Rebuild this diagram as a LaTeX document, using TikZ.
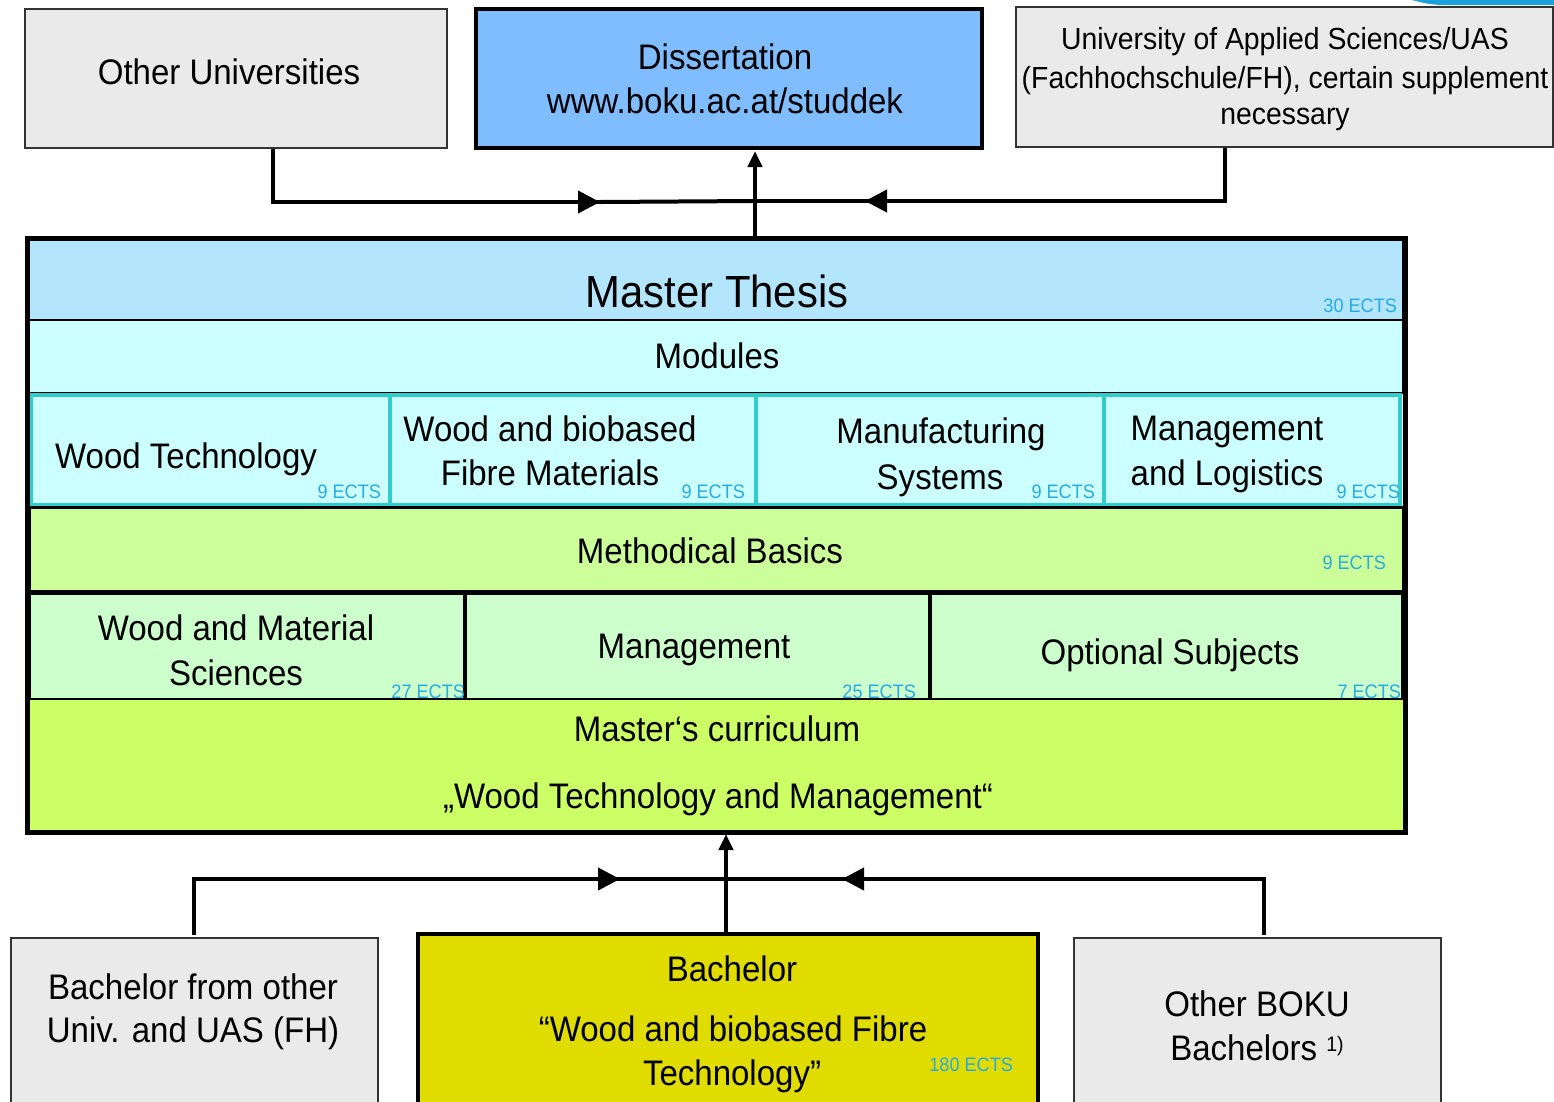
\documentclass[tikz,border=0pt]{standalone}
\usepackage{fontspec}
\setmainfont{Liberation Sans}[FakeStretch=0.93]
\usetikzlibrary{arrows.meta}
\definecolor{grayfill}{HTML}{EAEAEA}
\definecolor{grayline}{HTML}{333333}
\definecolor{disblue}{HTML}{80BDFF}
\definecolor{thesisblue}{HTML}{B3E5FC}
\definecolor{modcyan}{HTML}{CCFFFF}
\definecolor{teal}{HTML}{33CCCC}
\definecolor{methgreen}{HTML}{CCFF99}
\definecolor{rowgreen}{HTML}{CCFFCC}
\definecolor{curgreen}{HTML}{CCFF66}
\definecolor{bachyellow}{HTML}{E0DC00}
\definecolor{ectsblue}{HTML}{29ABE2}
\definecolor{cornerblue}{HTML}{1AA0DC}
\newcommand\rbox[6]{\node[#6, anchor=north west, minimum width={#4pt-#2pt}, minimum height={#5pt-#3pt}] (#1) at (#2,#3) {};}
\newcommand\fA{\fontsize{35.5}{45}\selectfont}
\newcommand\fB{\fontsize{45}{52}\selectfont}
\newcommand\fC{\fontsize{30.5}{39}\selectfont}
\newcommand\fE{\fontsize{19.5}{22}\selectfont}
\tikzset{
  boxbase/.style={rectangle, inner sep=0pt, outer sep=0pt},
  graybox/.style={boxbase, fill=grayfill, draw=grayline, line width=2pt},
  thickbox/.style={boxbase, draw=black, line width=4pt},
  txt/.style={inner sep=0pt, outer sep=0pt, font=\fA, anchor=base},
  ects/.style={inner sep=0pt, outer sep=0pt, font=\fE, text=ectsblue, anchor=base east},
  conn/.style={draw=black, line width=4pt},
  tipr/.style={-{Triangle[length=22pt,width=22pt]}},
  tipu/.style={-{Triangle[length=16pt,width=14pt]}},
}
\begin{document}
\begin{tikzpicture}[x=1pt,y=-1pt]
\useasboundingbox (0,0) rectangle (1554,1101);
% corner fragment
\fill[cornerblue] (1412,0) to[out=-15,in=180] (1445,5) -- (1554,5) -- (1554,0) -- cycle;
% top boxes
\rbox{ou}{25}{9}{447}{148}{graybox}
\rbox{dis}{476}{9}{982}{148}{thickbox, fill=disblue}
\rbox{uas}{1016}{7}{1553}{147}{graybox}
\node[txt] (tou) at (229,84) {Other Universities};
\node[txt] (tdis1) at (725,69) {Dissertation};
\node[txt] (tdis2) at (725,113) {www.boku.ac.at/studdek};
\node[txt, font=\fC] (tuas1) at (1285,49) {University of Applied Sciences/UAS};
\node[txt, font=\fC] (tuas2) at (1285,88) {(Fachhochschule/FH), certain supplement};
\node[txt, font=\fC] (tuas3) at (1285,124) {necessary};
% main block rows
\rbox{mt}{29}{240}{1403}{320}{boxbase, fill=thesisblue, draw=black, line width=2pt}
\rbox{mod}{29}{320}{1403}{393}{boxbase, fill=modcyan, draw=black, line width=2pt}
\rbox{m1}{31}{395}{390}{505}{boxbase, fill=modcyan, draw=teal, line width=4pt}
\rbox{m2}{390}{395}{756}{505}{boxbase, fill=modcyan, draw=teal, line width=4pt}
\rbox{m3}{756}{395}{1104}{505}{boxbase, fill=modcyan, draw=teal, line width=4pt}
\rbox{m4}{1104}{395}{1400}{505}{boxbase, fill=modcyan, draw=teal, line width=4pt}
\rbox{mb}{29}{507}{1403}{591}{boxbase, fill=methgreen, draw=black, line width=3pt}
\rbox{r1}{29}{593}{465}{700}{boxbase, fill=rowgreen, draw=black, line width=4pt}
\rbox{r2}{465}{593}{930}{700}{boxbase, fill=rowgreen, draw=black, line width=4pt}
\rbox{r3}{930}{593}{1403}{700}{boxbase, fill=rowgreen, draw=black, line width=4pt}
\rbox{mc}{29}{700}{1403}{831}{boxbase, fill=curgreen}
\rbox{main}{27}{238}{1405}{832}{boxbase, draw=black, line width=5pt}
% row texts
\node[txt, font=\fB] (tmt) at (717,307) {Master Thesis};
\node[ects] (e0) at (1397,312) {30 ECTS};
\node[txt] (tmod) at (717,368) {Modules};
\node[txt] (tm1) at (186,468) {Wood Technology};
\node[ects] (e1) at (381,498) {9 ECTS};
\node[txt] (tm2a) at (550,441) {Wood and biobased};
\node[txt] (tm2b) at (550,485) {Fibre Materials};
\node[ects] (e2) at (745,498) {9 ECTS};
\node[txt] (tm3a) at (941,443) {Manufacturing};
\node[txt] (tm3b) at (940,489) {Systems};
\node[ects] (e3) at (1095,498) {9 ECTS};
\node[txt] (tm4a) at (1227,440) {Management};
\node[txt] (tm4b) at (1227,485) {and Logistics};
\node[ects] (e4) at (1400,498) {9 ECTS};
\node[txt] (tmb) at (710,563) {Methodical Basics};
\node[ects] (e5) at (1386,569) {9 ECTS};
\node[txt] (tr1a) at (236,640) {Wood and Material};
\node[txt] (tr1b) at (236,685) {Sciences};
\node[ects] (e6) at (465,698) {27 ECTS};
\node[txt] (tr2) at (694,658) {Management};
\node[ects] (e7) at (916,698) {25 ECTS};
\node[txt] (tr3) at (1170,664) {Optional Subjects};
\node[ects] (e8) at (1401,698) {7 ECTS};
\node[txt] (tmc1) at (717,741) {Master‘s curriculum};
\node[txt] (tmc2) at (718,808) {„Wood Technology and Management“};
% top connectors
\coordinate (ouo) at (273,149);
\coordinate (uaso) at (1225,148);
\coordinate (jt) at (755,201);
\coordinate (ta1) at (600,202);
\coordinate (ta2) at (865,201);
\coordinate (mainup) at (755,236);
\coordinate (disin) at (755,151);
\draw[conn] (ouo) |- (ta1);
\draw[conn, tipr] (ouo |- ta1) -- (ta1);
\draw[conn] (ta1) -- (jt);
\draw[conn] (uaso) |- (jt);
\draw[conn, tipr] (uaso |- ta2) -- (ta2);
\draw[conn, tipu] (mainup) -- (disin);
% bottom boxes
\rbox{bo}{11}{938}{378}{1110}{graybox}
\rbox{bach}{418}{934}{1038}{1110}{thickbox, fill=bachyellow}
\rbox{boku}{1074}{938}{1441}{1110}{graybox}
\node[txt] (tbo1) at (193,999) {Bachelor from other};
\node[txt] (tbo2) at (193,1042) {Univ. and UAS (FH)};
\node[txt] (tb1) at (732,981) {Bachelor};
\node[txt] (tb2) at (733,1041) {“Wood and biobased Fibre};
\node[txt] (tb3) at (732,1085) {Technology”};
\node[ects] (e9) at (1013,1071) {180 ECTS};
\node[txt] (tk1) at (1257,1016) {Other BOKU};
\node[txt] (tk2) at (1257,1060) {Bachelors \raisebox{9pt}{\fontsize{21}{22}\selectfont 1)}};
% bottom connectors
\coordinate (boo) at (194,935);
\coordinate (bokuo) at (1264,935);
\coordinate (jb) at (726,879);
\coordinate (ba1) at (620,879);
\coordinate (ba2) at (842,879);
\coordinate (bachup) at (726,932);
\coordinate (mainin) at (726,834);
\draw[conn] (boo) |- (jb);
\draw[conn, tipr] (boo |- ba1) -- (ba1);
\draw[conn] (bokuo) |- (jb);
\draw[conn, tipr] (bokuo |- ba2) -- (ba2);
\draw[conn, tipu] (bachup) -- (mainin);
\end{tikzpicture}
\end{document}
